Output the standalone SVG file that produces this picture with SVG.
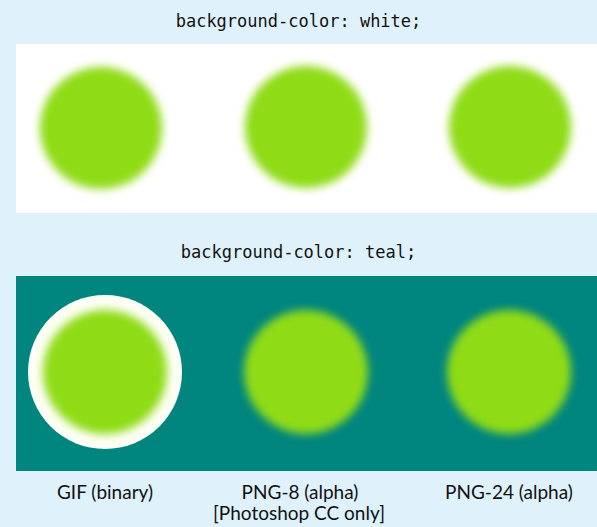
<svg xmlns="http://www.w3.org/2000/svg" width="597" height="527" viewBox="0 0 597 527">
  <style>
    .mono { font-family: "DejaVu Sans Mono", "Liberation Mono", monospace; font-size: 17px; fill: #111; text-anchor: middle; }
    .lbl { font-family: Lato, "Noto Sans", sans-serif; font-size: 19px; fill: #111; text-anchor: middle; }
    .dot { fill: #8fdb17; filter: url(#soft); }
  </style>
  <defs>
    <filter id="soft" x="-30%" y="-30%" width="160%" height="160%">
      <feGaussianBlur stdDeviation="4.5"/>
    </filter>
    <filter id="ring" x="-10%" y="-10%" width="120%" height="120%">
      <feGaussianBlur stdDeviation="0.5"/>
    </filter>
  </defs>
  <rect width="597" height="527" fill="#dff1fb"/>

  <g id="white-section">
    <text class="mono" x="298.5" y="27">background-color: white;</text>
    <rect x="16" y="44" width="581" height="169" fill="#ffffff"/>
    <circle class="dot" cx="101" cy="128" r="61"/>
    <circle class="dot" cx="306" cy="127" r="61"/>
    <circle class="dot" cx="510" cy="127" r="61"/>
  </g>

  <g id="teal-section">
    <text class="mono" x="298.5" y="258">background-color: teal;</text>
    <rect x="16" y="276" width="581" height="195" fill="#00857f"/>
    <circle cx="105" cy="372" r="77" fill="#fdfff5" filter="url(#ring)"/>
    <circle class="dot" cx="105" cy="372" r="62"/>
    <circle class="dot" cx="306" cy="372" r="62"/>
    <circle class="dot" cx="509" cy="372" r="62"/>
  </g>

  <g id="labels">
    <text class="lbl" x="105" y="499">GIF (binary)</text>
    <text class="lbl" x="300" y="499">PNG-8 (alpha)</text>
    <text class="lbl" x="299" y="520">[Photoshop CC only]</text>
    <text class="lbl" x="509" y="499">PNG-24 (alpha)</text>
  </g>
</svg>
